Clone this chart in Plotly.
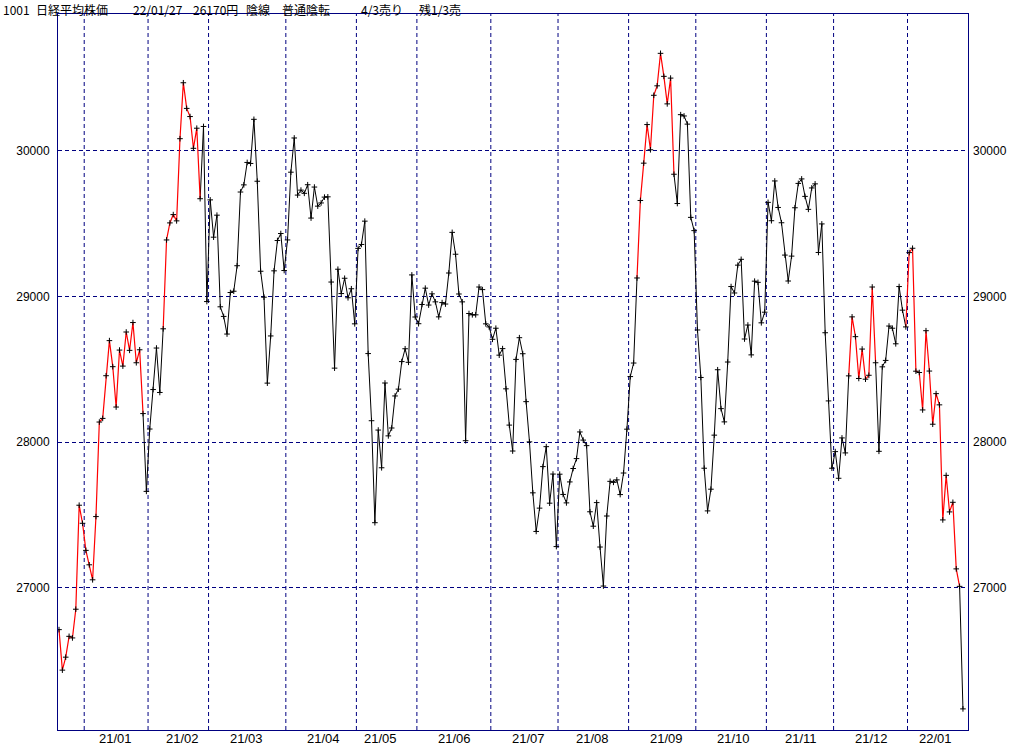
import plotly.graph_objects as go

# ---------------- data ----------------
dates = [
    "2020-12-21", "2020-12-22", "2020-12-23", "2020-12-24", "2020-12-25", "2020-12-28", "2020-12-29", "2020-12-30",
    "2021-01-04", "2021-01-05", "2021-01-06", "2021-01-07", "2021-01-08", "2021-01-12", "2021-01-13", "2021-01-14",
    "2021-01-15", "2021-01-18", "2021-01-19", "2021-01-20", "2021-01-21", "2021-01-22", "2021-01-25", "2021-01-26",
    "2021-01-27", "2021-01-28", "2021-01-29",
    "2021-02-01", "2021-02-02", "2021-02-03", "2021-02-04", "2021-02-05", "2021-02-08", "2021-02-09", "2021-02-10",
    "2021-02-12", "2021-02-15", "2021-02-16", "2021-02-17", "2021-02-18", "2021-02-19", "2021-02-22", "2021-02-24",
    "2021-02-25", "2021-02-26",
    "2021-03-01", "2021-03-02", "2021-03-03", "2021-03-04", "2021-03-05", "2021-03-08", "2021-03-09", "2021-03-10",
    "2021-03-11", "2021-03-12", "2021-03-15", "2021-03-16", "2021-03-17", "2021-03-18", "2021-03-19", "2021-03-22",
    "2021-03-23", "2021-03-24", "2021-03-25", "2021-03-26", "2021-03-29", "2021-03-30", "2021-03-31",
    "2021-04-01", "2021-04-02", "2021-04-05", "2021-04-06", "2021-04-07", "2021-04-08", "2021-04-09", "2021-04-12",
    "2021-04-13", "2021-04-14", "2021-04-15", "2021-04-16", "2021-04-19", "2021-04-20", "2021-04-21", "2021-04-22",
    "2021-04-23", "2021-04-26", "2021-04-27", "2021-04-28", "2021-04-30",
    "2021-05-06", "2021-05-07", "2021-05-10", "2021-05-11", "2021-05-12", "2021-05-13", "2021-05-14", "2021-05-17",
    "2021-05-18", "2021-05-19", "2021-05-20", "2021-05-21", "2021-05-24", "2021-05-25", "2021-05-26", "2021-05-27",
    "2021-05-28", "2021-05-31",
    "2021-06-01", "2021-06-02", "2021-06-03", "2021-06-04", "2021-06-07", "2021-06-08", "2021-06-09", "2021-06-10",
    "2021-06-11", "2021-06-14", "2021-06-15", "2021-06-16", "2021-06-17", "2021-06-18", "2021-06-21", "2021-06-22",
    "2021-06-23", "2021-06-24", "2021-06-25", "2021-06-28", "2021-06-29", "2021-06-30",
    "2021-07-01", "2021-07-02", "2021-07-05", "2021-07-06", "2021-07-07", "2021-07-08", "2021-07-09", "2021-07-12",
    "2021-07-13", "2021-07-14", "2021-07-15", "2021-07-16", "2021-07-19", "2021-07-20", "2021-07-21", "2021-07-26",
    "2021-07-27", "2021-07-28", "2021-07-29", "2021-07-30",
    "2021-08-02", "2021-08-03", "2021-08-04", "2021-08-05", "2021-08-06", "2021-08-10", "2021-08-11", "2021-08-12",
    "2021-08-13", "2021-08-16", "2021-08-17", "2021-08-18", "2021-08-19", "2021-08-20", "2021-08-23", "2021-08-24",
    "2021-08-25", "2021-08-26", "2021-08-27", "2021-08-30", "2021-08-31",
    "2021-09-01", "2021-09-02", "2021-09-03", "2021-09-06", "2021-09-07", "2021-09-08", "2021-09-09", "2021-09-10",
    "2021-09-13", "2021-09-14", "2021-09-15", "2021-09-16", "2021-09-17", "2021-09-21", "2021-09-22", "2021-09-24",
    "2021-09-27", "2021-09-28", "2021-09-29", "2021-09-30",
    "2021-10-01", "2021-10-04", "2021-10-05", "2021-10-06", "2021-10-07", "2021-10-08", "2021-10-11", "2021-10-12",
    "2021-10-13", "2021-10-14", "2021-10-15", "2021-10-18", "2021-10-19", "2021-10-20", "2021-10-21", "2021-10-22",
    "2021-10-25", "2021-10-26", "2021-10-27", "2021-10-28", "2021-10-29",
    "2021-11-01", "2021-11-02", "2021-11-04", "2021-11-05", "2021-11-08", "2021-11-09", "2021-11-10", "2021-11-11",
    "2021-11-12", "2021-11-15", "2021-11-16", "2021-11-17", "2021-11-18", "2021-11-19", "2021-11-22", "2021-11-24",
    "2021-11-25", "2021-11-26", "2021-11-29", "2021-11-30",
    "2021-12-01", "2021-12-02", "2021-12-03", "2021-12-06", "2021-12-07", "2021-12-08", "2021-12-09", "2021-12-10",
    "2021-12-13", "2021-12-14", "2021-12-15", "2021-12-16", "2021-12-17", "2021-12-20", "2021-12-21", "2021-12-22",
    "2021-12-23", "2021-12-24", "2021-12-27", "2021-12-28", "2021-12-29", "2021-12-30",
    "2022-01-04", "2022-01-05", "2022-01-06", "2022-01-07", "2022-01-11", "2022-01-12", "2022-01-13", "2022-01-14",
    "2022-01-17", "2022-01-18", "2022-01-19", "2022-01-20", "2022-01-21", "2022-01-24", "2022-01-25", "2022-01-26",
    "2022-01-27",
]

closes = [
    26714, 26436, 26525, 26668, 26657, 26854, 27568, 27444,
    27258, 27159, 27056, 27490, 28139, 28164, 28457, 28698,
    28519, 28242, 28633, 28523, 28757, 28631, 28822, 28546,
    28635, 28197, 27663,
    28091, 28362, 28647, 28342, 28779, 29389, 29506, 29563,
    29520, 30084, 30468, 30292, 30236, 30018, 30156, 29672,
    30168, 28966,
    29664, 29408, 29559, 28930, 28864, 28743, 29028, 29037,
    29212, 29718, 29767, 29921, 29914, 30217, 29792, 29174,
    28996, 28406, 28730, 29177, 29385, 29433, 29179,
    29389, 29854, 30089, 29697, 29731, 29709, 29768, 29539,
    29752, 29621, 29643, 29683, 29685, 29100, 28509, 29188,
    29021, 29126, 28992, 29054, 28813,
    29331, 29358, 29518, 28609, 28148, 27448, 28084, 27825,
    28407, 28044, 28098, 28318, 28365, 28554, 28642, 28549,
    29149, 28860,
    28814, 28946, 29058, 28942, 29019, 28964, 28861, 28959,
    28949, 29162, 29441, 29291, 29018, 28964, 28011, 28884,
    28875, 28875, 29066, 29048, 28813, 28792,
    28707, 28783, 28598, 28643, 28367, 28118, 27940, 28569,
    28718, 28608, 28279, 28003, 27653, 27388, 27548, 27833,
    27970, 27582, 27782, 27284,
    27781, 27642, 27584, 27728, 27820, 27888, 28071, 28015,
    27977, 27523, 27424, 27586, 27281, 27013, 27494, 27732,
    27725, 27742, 27641, 27789, 28090,
    28451, 28544, 29128, 29660, 29916, 30181, 30008, 30382,
    30447, 30670, 30512, 30323, 30500, 29840, 29639, 30249,
    30240, 30184, 29544, 29453,
    28771, 28445, 27822, 27529, 27678, 28049, 28498, 28231,
    28140, 28551, 29069, 29025, 29216, 29256, 28709, 28805,
    28600, 29106, 29098, 28820, 28893,
    29647, 29521, 29794, 29612, 29507, 29285, 29107, 29278,
    29610, 29777, 29808, 29688, 29599, 29746, 29774, 29303,
    29499, 28752, 28284, 27822,
    27936, 27753, 28030, 27927, 28456, 28861, 28725, 28438,
    28640, 28433, 28460, 29066, 28546, 27938, 28518, 28562,
    28798, 28783, 28676, 29069, 28907, 28792,
    29302, 29332, 28488, 28479, 28222, 28766, 28489, 28124,
    28334, 28257, 27467, 27773, 27522, 27588, 27131, 27011,
    26170,
]

# runs of the line drawn in red (signal state), given as start/end dates
red_runs = [
    ("2020-12-21", "2021-01-28"),
    ("2021-02-05", "2021-02-24"),
    ("2021-09-03", "2021-09-21"),
    ("2021-12-07", "2021-12-17"),
    ("2021-12-30", "2022-01-26"),
]

y_ticks = [27000, 28000, 29000, 30000]
header_parts = ["1001", "日経平均株価", "22/01/27", "26170円", "陰線", "普通陰転", "4/3売り", "残1/3売"]

# ---------------- derived ----------------
n = len(dates)
idx = list(range(n))
pos = {d: i for i, d in enumerate(dates)}

red_seg = [False] * (n - 1)
for a, b in red_runs:
    for i in range(pos[a], pos[b]):
        red_seg[i] = True


def seg_xy(flag):
    xs, ys = [], []
    for i in range(n - 1):
        if red_seg[i] != flag:
            continue
        if xs and xs[-1] == i:
            xs.append(i + 1)
            ys.append(closes[i + 1])
        else:
            if xs:
                xs.append(None)
                ys.append(None)
            xs += [i, i + 1]
            ys += [closes[i], closes[i + 1]]
    return xs, ys


# month boundaries and labels (label at trading day nearest the 15th)
months = []
for i, d in enumerate(dates):
    ym = d[:7]
    if not months or months[-1][0] != ym:
        months.append([ym, i, []])
    months[-1][2].append(i)

boundaries = [m[1] - 0.5 for m in months[1:]]
label_vals, label_txt = [], []
for ym, first, members in months[1:]:
    best = min(members, key=lambda k: abs(int(dates[k][8:10]) - 15))
    label_vals.append(best + 0.7)
    label_txt.append(ym[2:4] + "/" + ym[5:7])

NAVY = "#000080"
JP_FONT = "Noto Sans CJK JP"
NUM_FONT = "Liberation Sans"

fig = go.Figure()
bx, by = seg_xy(False)
rx, ry = seg_xy(True)
fig.add_trace(go.Scatter(x=bx, y=by, mode="lines", line=dict(color="#000000", width=1),
                         hoverinfo="skip", showlegend=False))
fig.add_trace(go.Scatter(x=rx, y=ry, mode="lines", line=dict(color="#FF0000", width=1.2),
                         hoverinfo="skip", showlegend=False))
fig.add_trace(go.Scatter(x=idx, y=closes, mode="markers",
                         marker=dict(symbol="cross-thin", size=4, line=dict(color="#000000", width=1)),
                         text=dates, hovertemplate="%{text}<br>%{y}<extra></extra>", showlegend=False))
# companion trace so the right-hand value axis is drawn
fig.add_trace(go.Scatter(x=idx, y=closes, yaxis="y2", mode="lines", line=dict(width=0),
                         opacity=0, hoverinfo="skip", showlegend=False))

x_range = [-0.3, n + 0.5]
y_range = [26025, 30940]

for b in boundaries:
    fig.add_shape(type="line", xref="x", yref="paper", x0=b, x1=b, y0=0, y1=1,
                  line=dict(color=NAVY, width=1, dash="4px,3px"), layer="below")

W, H = 1024, 745
L, R, T, B = 58, 56, 14, 15
pw = W - L - R
ph = H - T - B

# header line above the plot frame
header_px = [2, 35, 132, 192, 245, 281, 360, 418]
for txt, px in zip(header_parts, header_px):
    fig.add_annotation(text=txt, xref="paper", yref="paper", x=(px - L) / pw, y=1 + T / ph,
                       xanchor="left", yanchor="top", showarrow=False, borderpad=0,
                       font=dict(family=JP_FONT, size=12, color="#000000"))

# month labels under the frame
for v, t in zip(label_vals, label_txt):
    fig.add_annotation(text=t, xref="x", yref="paper", x=v, y=0,
                       xanchor="center", yanchor="top", showarrow=False, borderpad=0,
                       font=dict(family=NUM_FONT, size=13, color="#000000"))

fig.update_layout(
    width=W, height=H,
    margin=dict(l=L, r=R, t=T, b=B, pad=0),
    paper_bgcolor="white", plot_bgcolor="white",
    showlegend=False,
    font=dict(family=NUM_FONT, size=12, color="#000000"),
    xaxis=dict(range=x_range, showticklabels=False, ticks="",
               showgrid=False, zeroline=False, showline=True, mirror=True,
               linecolor=NAVY, linewidth=1, automargin=False),
    yaxis=dict(range=y_range, tickvals=y_ticks, tickformat="d", ticks="", showgrid=True,
               gridcolor=NAVY, gridwidth=1, griddash="4px,3px",
               zeroline=False, showline=True, mirror=True, linecolor=NAVY, linewidth=1,
               automargin=False, ticklabelstandoff=5,
               tickfont=dict(family=NUM_FONT, size=12, color="#000000")),
    yaxis2=dict(range=y_range, tickvals=y_ticks, tickformat="d", ticks="", overlaying="y", side="right",
                showgrid=False, zeroline=False, showline=False, automargin=False,
                ticklabelstandoff=4,
                tickfont=dict(family=NUM_FONT, size=12, color="#000000")),
)

fig.write_html("out.html", config={"displayModeBar": False})

# remove the browser's default page margin so the figure sits at the window origin
with open("out.html", encoding="utf-8") as fh:
    page = fh.read()
page = page.replace("<body>", '<body style="margin:0;padding:0;overflow:hidden;">', 1)
with open("out.html", "w", encoding="utf-8") as fh:
    fh.write(page)
